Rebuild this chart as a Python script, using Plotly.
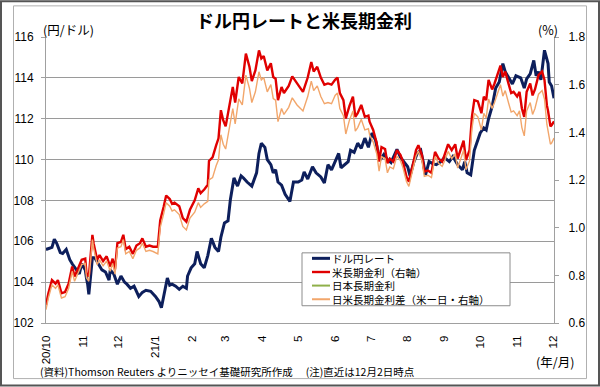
import plotly.graph_objects as go

# ---------------- data ----------------
usd_dates = ["2020-10-01","2020-10-06","2020-10-08","2020-10-10","2020-10-13","2020-10-15","2020-10-18","2020-10-21","2020-10-23","2020-10-27",
"2020-10-29","2020-10-31","2020-11-03","2020-11-04","2020-11-05","2020-11-06","2020-11-09","2020-11-11","2020-11-14","2020-11-17",
"2020-11-20","2020-11-23","2020-11-24","2020-11-27","2020-11-30","2020-12-03","2020-12-06","2020-12-08","2020-12-11","2020-12-14",
"2020-12-18","2020-12-21","2020-12-24","2020-12-28","2021-01-01","2021-01-04","2021-01-06","2021-01-08","2021-01-10","2021-01-11",
"2021-01-13","2021-01-15","2021-01-18","2021-01-21","2021-01-24","2021-01-27","2021-01-28","2021-01-31","2021-02-03","2021-02-05",
"2021-02-08","2021-02-11","2021-02-14","2021-02-17","2021-02-20","2021-02-23","2021-02-25","2021-02-28","2021-03-03","2021-03-05",
"2021-03-08","2021-03-11","2021-03-14","2021-03-16","2021-03-19","2021-03-23","2021-03-27","2021-03-29","2021-03-31","2021-04-03",
"2021-04-05","2021-04-08","2021-04-10","2021-04-12","2021-04-14","2021-04-17","2021-04-20","2021-04-24","2021-04-27","2021-05-01",
"2021-05-04","2021-05-06","2021-05-09","2021-05-13","2021-05-16","2021-05-20","2021-05-23","2021-05-26","2021-05-29","2021-06-01",
"2021-06-04","2021-06-06","2021-06-09","2021-06-12","2021-06-14","2021-06-17","2021-06-20","2021-06-23","2021-06-26","2021-06-29",
"2021-07-02","2021-07-05","2021-07-07","2021-07-09","2021-07-12","2021-07-15","2021-07-18","2021-07-20","2021-07-23","2021-07-26",
"2021-07-29","2021-08-01","2021-08-03","2021-08-06","2021-08-09","2021-08-12","2021-08-14","2021-08-16","2021-08-19","2021-08-22",
"2021-08-25","2021-08-29","2021-09-01","2021-09-05","2021-09-08","2021-09-12","2021-09-16","2021-09-18","2021-09-20","2021-09-23",
"2021-09-26","2021-09-29","2021-10-01","2021-10-04","2021-10-06","2021-10-08","2021-10-11","2021-10-14","2021-10-17","2021-10-20",
"2021-10-22","2021-10-25","2021-10-28","2021-10-31","2021-11-04","2021-11-07","2021-11-09","2021-11-12","2021-11-15","2021-11-17",
"2021-11-19","2021-11-21","2021-11-23","2021-11-24","2021-11-27","2021-11-28","2021-11-30","2021-12-02"]
usd_jpy = [105.6,105.7,106.1,105.9,105.45,105.4,105.6,105.1,104.9,104.6,
104.4,104.9,104.6,104.2,103.9,103.4,105.2,105.2,104.9,104.6,
104.5,104.1,104.6,104.4,103.9,104.3,104.0,103.9,103.7,103.8,
103.3,103.5,103.6,103.55,103.3,103.05,102.75,103.3,103.9,104.2,
103.85,103.9,103.8,103.65,103.8,103.7,104.3,104.7,104.9,105.5,
104.9,104.7,105.3,106.15,105.7,105.5,106.2,106.9,107.0,108.05,
109.1,108.7,109.2,109.1,108.9,108.7,109.35,110.3,110.8,110.6,
110.0,109.75,109.35,109.5,108.9,108.75,108.3,107.95,108.9,108.9,
109.0,109.4,109.05,109.65,109.35,109.15,108.85,109.75,109.5,109.9,
110.3,109.6,109.75,109.9,110.45,110.35,110.8,110.55,111.05,110.6,
111.3,110.95,110.4,110.0,110.25,110.0,109.85,110.1,110.5,110.1,
109.9,109.65,109.2,109.85,110.3,110.45,109.9,109.25,109.9,109.8,
109.75,109.9,110.1,109.9,110.15,109.75,109.5,109.9,109.35,109.25,
110.45,110.95,111.3,111.55,111.45,112.0,112.6,113.5,113.8,114.7,
114.3,114.0,113.7,114.1,114.0,113.5,113.95,114.2,114.85,114.1,
114.3,113.9,114.95,115.35,114.7,113.8,113.6,113.0]

us_dates = ["2020-10-01","2020-10-03","2020-10-06","2020-10-09","2020-10-11","2020-10-14","2020-10-17","2020-10-20","2020-10-23","2020-10-25",
"2020-10-28","2020-10-31","2020-11-03","2020-11-04","2020-11-06","2020-11-09","2020-11-10","2020-11-13","2020-11-15","2020-11-18",
"2020-11-21","2020-11-24","2020-11-26","2020-11-28","2020-11-30","2020-12-03","2020-12-05","2020-12-07","2020-12-10","2020-12-13",
"2020-12-16","2020-12-19","2020-12-21","2020-12-24","2020-12-27","2020-12-30","2021-01-03","2021-01-05","2021-01-08","2021-01-10",
"2021-01-13","2021-01-15","2021-01-17","2021-01-21","2021-01-24","2021-01-27","2021-01-30","2021-02-03","2021-02-06","2021-02-08",
"2021-02-11","2021-02-14","2021-02-15","2021-02-18","2021-02-21","2021-02-23","2021-02-25","2021-02-27","2021-03-01","2021-03-04",
"2021-03-07","2021-03-09","2021-03-12","2021-03-15","2021-03-18","2021-03-21","2021-03-23","2021-03-26","2021-03-29","2021-03-31",
"2021-04-02","2021-04-05","2021-04-08","2021-04-10","2021-04-12","2021-04-14","2021-04-17","2021-04-19","2021-04-23","2021-04-26",
"2021-04-30","2021-05-05","2021-05-09","2021-05-12","2021-05-14","2021-05-17","2021-05-20","2021-05-23","2021-05-26","2021-05-29",
"2021-06-01","2021-06-03","2021-06-05","2021-06-08","2021-06-10","2021-06-13","2021-06-16","2021-06-18","2021-06-20","2021-06-23",
"2021-06-26","2021-06-29","2021-06-30","2021-07-03","2021-07-06","2021-07-08","2021-07-10","2021-07-13","2021-07-15","2021-07-17",
"2021-07-20","2021-07-23","2021-07-26","2021-07-28","2021-07-31","2021-08-02","2021-08-05","2021-08-08","2021-08-10","2021-08-13",
"2021-08-15","2021-08-18","2021-08-21","2021-08-24","2021-08-27","2021-08-30","2021-09-01","2021-09-04","2021-09-07","2021-09-10",
"2021-09-12","2021-09-15","2021-09-17","2021-09-19","2021-09-22","2021-09-24","2021-09-26","2021-09-29","2021-10-02","2021-10-04",
"2021-10-06","2021-10-08","2021-10-11","2021-10-13","2021-10-16","2021-10-18","2021-10-20","2021-10-22","2021-10-25","2021-10-27",
"2021-10-29","2021-11-01","2021-11-03","2021-11-05","2021-11-07","2021-11-09","2021-11-12","2021-11-14","2021-11-16","2021-11-19",
"2021-11-22","2021-11-24","2021-11-26","2021-11-27","2021-11-29","2021-11-30","2021-12-02"]
us10y = [0.676,0.725,0.78,0.765,0.78,0.725,0.73,0.765,0.837,0.795,
0.83,0.865,0.87,0.81,0.795,0.97,0.935,0.865,0.885,0.86,
0.88,0.837,0.87,0.825,0.935,0.94,0.97,0.91,0.92,0.89,
0.925,0.935,0.955,0.92,0.925,0.92,0.92,1.03,1.09,1.135,
1.12,1.10,1.105,1.09,1.04,1.025,1.075,1.115,1.165,1.145,
1.16,1.18,1.28,1.295,1.345,1.375,1.493,1.45,1.425,1.50,
1.59,1.525,1.632,1.605,1.73,1.675,1.615,1.66,1.744,1.71,
1.72,1.66,1.69,1.632,1.625,1.535,1.59,1.565,1.595,1.635,
1.605,1.57,1.63,1.695,1.655,1.675,1.63,1.60,1.605,1.60,
1.62,1.63,1.565,1.535,1.458,1.51,1.55,1.465,1.48,1.515,
1.465,1.47,1.445,1.41,1.354,1.277,1.338,1.33,1.27,1.29,
1.277,1.325,1.305,1.277,1.214,1.193,1.255,1.325,1.346,1.305,
1.235,1.24,1.23,1.318,1.29,1.277,1.305,1.35,1.325,1.35,
1.29,1.338,1.365,1.283,1.325,1.465,1.535,1.53,1.48,1.55,
1.535,1.62,1.58,1.605,1.647,1.68,1.632,1.655,1.60,1.565,
1.57,1.55,1.57,1.50,1.465,1.57,1.605,1.555,1.58,1.64,
1.655,1.62,1.514,1.49,1.425,1.43,1.446]
spread = [0.656,0.705,0.76,0.745,0.76,0.705,0.71,0.745,0.817,0.775,
0.81,0.845,0.85,0.79,0.775,0.95,0.915,0.845,0.865,0.84,
0.86,0.817,0.85,0.805,0.915,0.92,0.95,0.89,0.90,0.87,
0.905,0.915,0.935,0.90,0.905,0.90,0.89,1.00,1.06,1.105,
1.09,1.07,1.075,1.055,1.005,0.99,1.04,1.065,1.105,1.085,
1.10,1.11,1.20,1.21,1.26,1.285,1.39,1.35,1.33,1.41,
1.50,1.435,1.54,1.515,1.64,1.585,1.525,1.57,1.654,1.62,
1.63,1.57,1.60,1.542,1.535,1.445,1.50,1.475,1.505,1.545,
1.515,1.49,1.55,1.615,1.575,1.595,1.55,1.52,1.525,1.52,
1.555,1.565,1.50,1.47,1.393,1.45,1.49,1.405,1.42,1.455,
1.41,1.415,1.39,1.36,1.31,1.237,1.298,1.29,1.23,1.255,
1.247,1.30,1.28,1.252,1.194,1.173,1.235,1.30,1.321,1.28,
1.215,1.22,1.21,1.298,1.27,1.257,1.28,1.32,1.29,1.31,
1.25,1.298,1.325,1.243,1.28,1.415,1.48,1.465,1.41,1.48,
1.46,1.54,1.50,1.525,1.567,1.60,1.552,1.575,1.52,1.485,
1.49,1.47,1.49,1.42,1.385,1.49,1.525,1.475,1.50,1.56,
1.575,1.54,1.434,1.41,1.35,1.355,1.376]

jgb_dates = ["2020-10-01","2020-11-02","2020-12-01","2021-01-04","2021-02-01","2021-03-01","2021-04-01","2021-05-06",
"2021-06-01","2021-07-01","2021-08-02","2021-09-01","2021-10-01","2021-11-01","2021-12-02"]
jgb10y = [0.03,0.03,0.02,0.02,0.05,0.15,0.10,0.09,0.08,0.05,0.02,0.03,0.07,0.09,0.06]

tick_dates = ["2020-10-01","2020-11-01","2020-12-01","2021-01-01","2021-02-01","2021-03-01","2021-04-01","2021-05-01",
"2021-06-01","2021-07-01","2021-08-01","2021-09-01","2021-10-01","2021-11-01","2021-12-01"]
tick_labels = ["20/10","11","12","21/1","2","3","4","5","6","7","8","9","10","11","12"]

series_names = ["ドル円レート", "米長期金利（右軸）", "日本長期金利", "日米長期金利差（米ー日・右軸）"]
series_colors = ["#0d1f5c", "#e00000", "#8fb04a", "#f2a66b"]
series_widths = [3, 2.4, 2, 1.4]

# ---------------- figure ----------------
JP = "Noto Sans CJK JP"
NUM = "Liberation Sans"
W, H = 600, 387
L, R, T, B = 46, 554, 36.7, 323.3

def px(x):
    return (x - L) / (R - L)

def py(y):
    return (B - y) / (B - T)

fig = go.Figure()
fig.add_trace(go.Scatter(x=usd_dates, y=usd_jpy, name=series_names[0], mode="lines",
                         line=dict(color=series_colors[0], width=series_widths[0]), yaxis="y"))
fig.add_trace(go.Scatter(x=us_dates, y=us10y, name=series_names[1], mode="lines",
                         line=dict(color=series_colors[1], width=series_widths[1]), yaxis="y2"))
fig.add_trace(go.Scatter(x=jgb_dates, y=jgb10y, name=series_names[2], mode="lines",
                         line=dict(color=series_colors[2], width=series_widths[2]), yaxis="y"))
fig.add_trace(go.Scatter(x=us_dates, y=spread, name=series_names[3], mode="lines",
                         line=dict(color=series_colors[3], width=series_widths[3]), yaxis="y2"))

axis_col = "#a0a0a0"
fig.update_layout(
    width=W, height=H,
    margin=dict(l=L, r=W - R, t=T, b=H - B),
    paper_bgcolor="white", plot_bgcolor="white",
    font=dict(family=NUM, size=11, color="#000"),
    showlegend=False,
    xaxis=dict(type="date", range=["2020-10-01", "2021-12-02"],
               tickvals=tick_dates, ticktext=tick_labels, tickangle=-90,
               tickfont=dict(family=NUM, size=11.5),
               showgrid=False, showline=True, linecolor=axis_col, linewidth=1,
               ticks="", ticklabelstandoff=7, zeroline=False),
    yaxis=dict(range=[102, 116], dtick=2, tick0=102,
               showgrid=True, gridcolor="#9a9a9a", gridwidth=1,
               showline=True, linecolor=axis_col, linewidth=1,
               ticks="outside", ticklen=4, tickcolor=axis_col, ticklabelstandoff=5,
               tickfont=dict(family=NUM, size=12), zeroline=False),
    yaxis2=dict(range=[0.6, 1.8], dtick=0.2, tick0=0.6, tickformat=".1f",
                overlaying="y", side="right", showgrid=False,
                showline=True, linecolor=axis_col, linewidth=1,
                ticks="outside", ticklen=4, tickcolor=axis_col, ticklabelstandoff=7,
                tickfont=dict(family=NUM, size=12), zeroline=False),
)

annotations = [
    dict(text="<b>ドル円レートと米長期金利</b>", x=px(304), y=py(20), xanchor="center", yanchor="middle",
         font=dict(family=JP, size=18, color="#000")),
    dict(text="(円/ドル)", x=px(41), y=py(29), xanchor="left", yanchor="middle",
         font=dict(family=JP, size=12.5, color="#000")),
    dict(text="(%)", x=px(560), y=py(29), xanchor="right", yanchor="middle",
         font=dict(family=JP, size=12.5, color="#000")),
    dict(text="(年/月)", x=px(576), y=py(362), xanchor="right", yanchor="middle",
         font=dict(family=JP, size=12.5, color="#000")),
    dict(text="(資料)Thomson Reuters よりニッセイ基礎研究所作成　 (注)直近は12月2日時点", x=px(38), y=py(372),
         xanchor="left", yanchor="middle", font=dict(family=JP, size=10.5, color="#000")),
    # legend text block (one text, one line per series)
    dict(text="<br>".join(series_names), x=px(330), y=py(279), xanchor="left", yanchor="middle",
         align="left", font=dict(family=JP, size=10.5, color="#000")),
]

shapes = [
    dict(type="rect", xref="paper", yref="paper", x0=px(1), x1=px(599), y0=py(386), y1=py(1),
         line=dict(color="#555555", width=2), fillcolor="rgba(0,0,0,0)", layer="below"),
    dict(type="rect", xref="paper", yref="paper", x0=px(13.5), x1=px(586.5), y0=py(379), y1=py(5.5),
         line=dict(color="#b0b0b0", width=1), fillcolor="rgba(0,0,0,0)", layer="below"),
    # legend box
    dict(type="rect", xref="paper", yref="paper", x0=px(302), x1=px(510), y0=py(306), y1=py(253),
         line=dict(color="#8c8c8c", width=1), fillcolor="white", layer="above"),
]
legend_rows = [258.5, 272.2, 285.8, 299.5]
for col, w, yy in zip(series_colors, series_widths, legend_rows):
    shapes.append(dict(type="line", xref="paper", yref="paper", x0=px(312), x1=px(330),
                       y0=py(yy), y1=py(yy), line=dict(color=col, width=max(w, 2)), layer="above"))

for a in annotations:
    a.update(xref="paper", yref="paper", showarrow=False)
fig.update_layout(annotations=annotations, shapes=shapes)

fig.write_html("out.html", config={"displayModeBar": False},
               post_script="document.body.style.margin='0px';")
